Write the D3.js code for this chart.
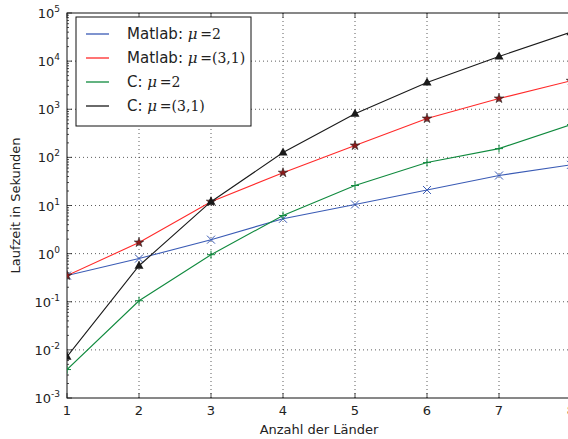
<!DOCTYPE html>
<head>
<meta charset="utf-8">
<title>Laufzeit</title>
<script type="text/javascript" src="https://d3js.org/d3.v7.min.js"></script>
<style>
    body { margin: 0; background: #fff; }
    text { font-family: "DejaVu Sans", sans-serif; fill: #222; }
</style>
</head>
<body>
<div id="chart"></div>
<script>

// data
var laender = [1, 2, 3, 4, 5, 6, 7, 8];
var matlabMu2  = [0.35, 0.79, 1.95, 5.3, 10.5, 21, 42, 70];
var matlabMu31 = [0.35, 1.7, 12, 48, 176, 640, 1670, 3900];
var cMu2       = [0.0039, 0.105, 0.95, 6.2, 26, 78, 152, 480];
var cMu31      = [0.0072, 0.56, 12, 126, 810, 3600, 12500, 40000];
var yTickExp   = [-3, -2, -1, 0, 1, 2, 3, 4, 5];

var series = [
    {name: "Matlab: ", mu: "2",     values: matlabMu2,  color: "#3a5bb5", marker: "x"},
    {name: "Matlab: ", mu: "(3,1)", values: matlabMu31, color: "#ff2a2a", marker: "star"},
    {name: "C: ",      mu: "2",     values: cMu2,       color: "#108a3e", marker: "plus"},
    {name: "C: ",      mu: "(3,1)", values: cMu31,      color: "#1a1a1a", marker: "tri"}
];

var margin = {top: 13, right: 0, bottom: 41, left: 67},
    width = 504,
    height = 385;

var svg = d3.select("#chart")
  .append("svg")
    .attr("width", 568)
    .attr("height", 439)
  .append("g")
    .attr("transform", "translate(" + margin.left + "," + margin.top + ")");

var x = d3.scaleLinear().domain([1, 8]).range([0, width]);
var y = d3.scaleLog().domain([1e-3, 1e5]).range([height, 0]);

// grid
svg.append("g").selectAll("line.gx")
  .data(laender.slice(1, 7))
  .enter().append("line")
    .attr("x1", function(d) { return x(d); }).attr("x2", function(d) { return x(d); })
    .attr("y1", 0).attr("y2", height)
    .attr("stroke", "#333").attr("stroke-width", 0.8).attr("stroke-dasharray", "1,3");
svg.append("g").selectAll("line.gy")
  .data(yTickExp.slice(1, 8))
  .enter().append("line")
    .attr("x1", 0).attr("x2", width)
    .attr("y1", function(d) { return y(Math.pow(10, d)); })
    .attr("y2", function(d) { return y(Math.pow(10, d)); })
    .attr("stroke", "#333").attr("stroke-width", 0.8).attr("stroke-dasharray", "1,3");

// minor ticks on y
var minor = [];
yTickExp.slice(0, 8).forEach(function(e) {
    for (var k = 2; k < 10; k++) minor.push(k * Math.pow(10, e));
});
svg.append("g").selectAll("line")
  .data(minor).enter().append("line")
    .attr("x1", 0).attr("x2", 2)
    .attr("y1", function(d) { return y(d); }).attr("y2", function(d) { return y(d); })
    .attr("stroke", "#222").attr("stroke-width", 0.8);
svg.append("g").selectAll("line")
  .data(yTickExp).enter().append("line")
    .attr("x1", 0).attr("x2", 5)
    .attr("y1", function(d) { return y(Math.pow(10, d)); })
    .attr("y2", function(d) { return y(Math.pow(10, d)); })
    .attr("stroke", "#222").attr("stroke-width", 0.8);

// x ticks top and bottom (inside)
svg.append("g").selectAll("line")
  .data(laender).enter().append("line")
    .attr("x1", function(d) { return x(d); }).attr("x2", function(d) { return x(d); })
    .attr("y1", height).attr("y2", height - 5)
    .attr("stroke", "#222").attr("stroke-width", 0.8);
svg.append("g").selectAll("line")
  .data(laender).enter().append("line")
    .attr("x1", function(d) { return x(d); }).attr("x2", function(d) { return x(d); })
    .attr("y1", 0).attr("y2", 5)
    .attr("stroke", "#222").attr("stroke-width", 0.8);

// frame
svg.append("rect")
    .attr("x", 0).attr("y", 0).attr("width", width).attr("height", height)
    .attr("fill", "none").attr("stroke", "#111").attr("stroke-width", 1);

// tick labels (the 8 sits on the cropped right edge, as in the original)
svg.append("g").selectAll("text")
  .data(laender).enter().append("text")
    .attr("x", function(d) { return x(d); })
    .attr("y", height + 17)
    .attr("text-anchor", "middle")
    .style("font-size", "13px")
    .text(function(d) { return d; });

var yl = svg.append("g").selectAll("text")
  .data(yTickExp).enter().append("text")
    .attr("x", -7)
    .attr("y", function(d) { return y(Math.pow(10, d)) + 5; })
    .attr("text-anchor", "end")
    .style("font-size", "13px");
yl.append("tspan").text("10");
yl.append("tspan").attr("dy", -6).style("font-size", "9px").text(function(d) { return d; });

svg.append("text")
    .attr("x", width / 2)
    .attr("y", height + 36)
    .attr("text-anchor", "middle")
    .style("font-size", "13px")
    .text("Anzahl der Länder");

svg.append("text")
    .attr("transform", "rotate(-90)")
    .attr("x", -height / 2)
    .attr("y", -47)
    .attr("text-anchor", "middle")
    .style("font-size", "13px")
    .text("Laufzeit in Sekunden");

// lines and markers
var line = d3.line()
    .x(function(d, i) { return x(laender[i]); })
    .y(function(d) { return y(d); });

svg.append("clipPath").attr("id", "clip")
  .append("rect").attr("x", 0).attr("y", 0).attr("width", width).attr("height", height);

var plot = svg.append("g").attr("clip-path", "url(#clip)");

series.forEach(function(s) {
    plot.append("path")
        .datum(s.values)
        .attr("fill", "none")
        .attr("stroke", s.color)
        .attr("stroke-width", 1.1)
        .attr("d", line);

    var pts = plot.append("g").selectAll("g")
      .data(s.values).enter().append("g")
        .attr("transform", function(d, i) { return "translate(" + x(laender[i]) + "," + y(d) + ")"; });

    if (s.marker == "x") {
        pts.append("path").attr("d", "M-4,-4L4,4M-4,4L4,-4")
            .attr("stroke", s.color).attr("stroke-width", 1);
    } else if (s.marker == "plus") {
        pts.append("path").attr("d", "M-4,0L4,0M0,-4L0,4")
            .attr("stroke", s.color).attr("stroke-width", 1);
    } else if (s.marker == "star") {
        pts.append("path").attr("d", d3.symbol().type(d3.symbolStar).size(28))
            .attr("fill", "#8b1a1a").attr("stroke", "#222").attr("stroke-width", 0.6);
    } else {
        pts.append("path").attr("d", "M0,-5L4.5,3L-4.5,3Z")
            .attr("fill", "#1a1a1a");
    }
});

// legend
var lg = svg.append("g").attr("transform", "translate(9,4)");
lg.append("rect")
    .attr("width", 175).attr("height", 109)
    .attr("fill", "#fff").attr("stroke", "#111").attr("stroke-width", 1);

var items = lg.selectAll("g.item")
  .data(series).enter().append("g")
    .attr("transform", function(d, i) { return "translate(0," + (17 + i * 24) + ")"; });
items.append("line")
    .attr("x1", 10).attr("x2", 33).attr("y1", 0).attr("y2", 0)
    .attr("stroke", function(d) { return d.color; })
    .attr("stroke-opacity", 0.65)
    .attr("stroke-width", 2);
var lt = items.append("text")
    .attr("x", 51).attr("y", 5)
    .style("font-size", "15px");
lt.append("tspan").text(function(d) { return d.name; });
lt.append("tspan")
    .style("font-family", "'DejaVu Serif', serif").style("font-style", "italic")
    .text("μ");
lt.append("tspan")
    .style("font-family", "'DejaVu Serif', serif")
    .style("font-size", "14px")
    .text(function(d) { return "\u2009=" + d.mu; });

</script>
</body>
